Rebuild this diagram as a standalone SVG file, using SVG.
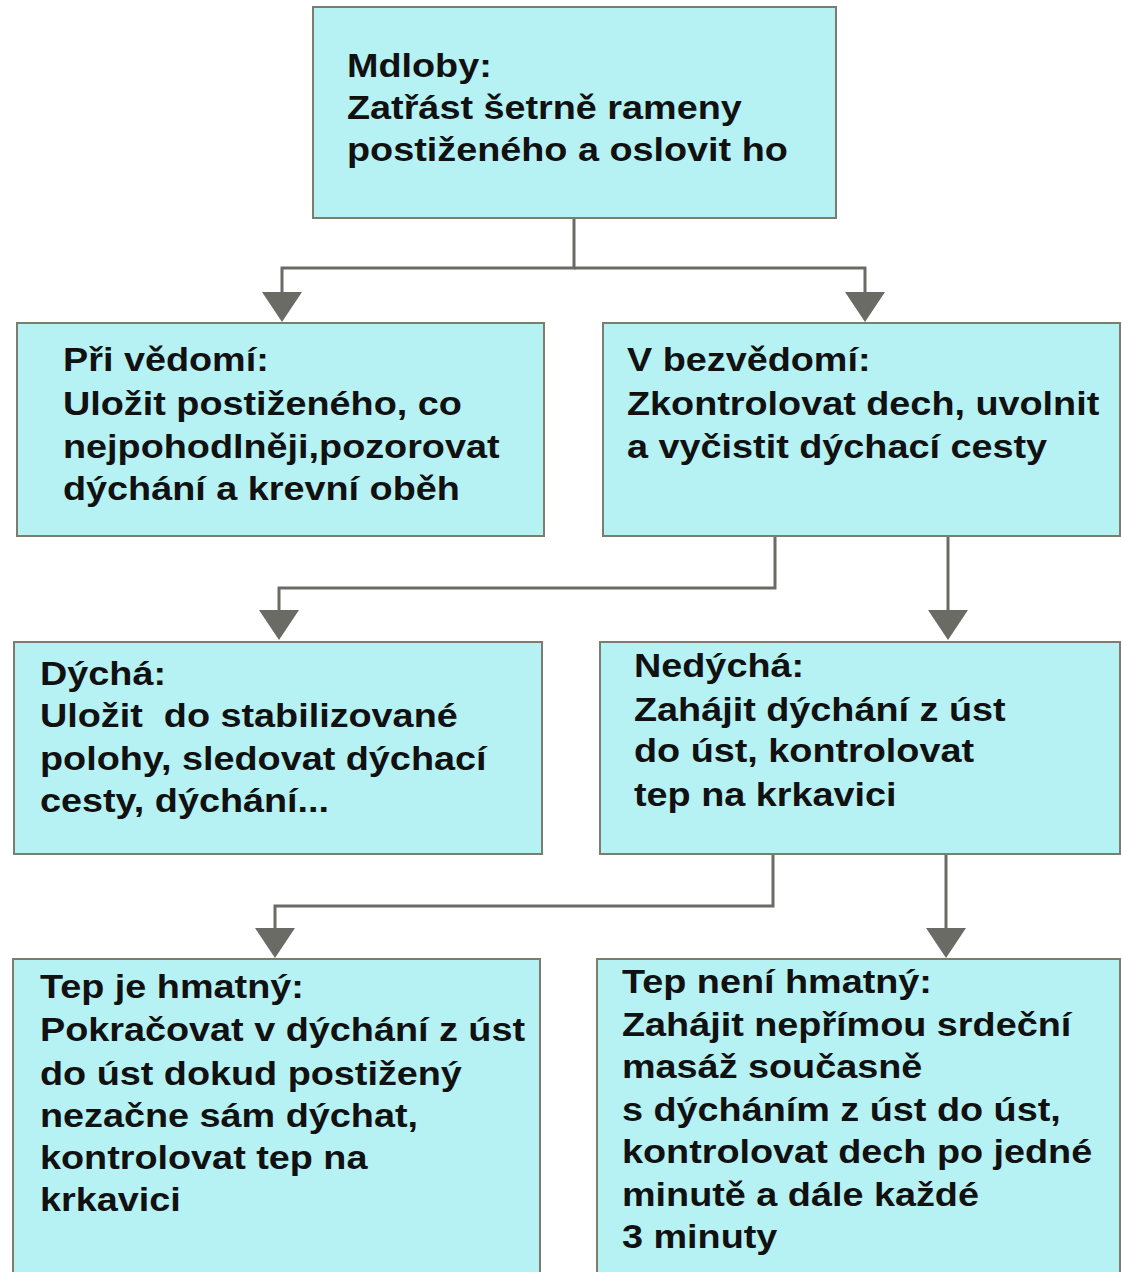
<svg xmlns="http://www.w3.org/2000/svg" width="1122" height="1272" viewBox="0 0 1122 1272">
<style>
.box{fill:#b6f2f3;stroke:#7d7d6e;stroke-width:2}
.t{font-family:"Liberation Sans",Arial,sans-serif;font-weight:bold;font-size:33px;fill:#111}
.c{fill:none;stroke:#6b6b66;stroke-width:3}
.a{fill:#6b6b66}
</style>
<rect width="1122" height="1272" fill="#fff"/>
<g id="connectors">
<path class="c" d="M574,218 V268 H282 V300"/>
<path class="c" d="M574,268 H865 V300"/>
<path class="c" d="M775,536 V588 H279 V618"/>
<path class="c" d="M948,536 V618"/>
<path class="c" d="M773,854 V906 H275 V936"/>
<path class="c" d="M946,854 V936"/>
<path class="a" d="M262,292 L302,292 L282,322 Z"/>
<path class="a" d="M845,292 L885,292 L865,322 Z"/>
<path class="a" d="M259,610 L299,610 L279,640 Z"/>
<path class="a" d="M928,610 L968,610 L948,640 Z"/>
<path class="a" d="M255,928 L295,928 L275,958 Z"/>
<path class="a" d="M926,928 L966,928 L946,958 Z"/>
</g>
<g id="n1">
<rect class="box" x="313" y="7" width="523" height="211"/>
<g transform="translate(347,0) scale(1.145,1)">
<text class="t" x="0" y="77">Mdloby:</text>
<text class="t" x="0" y="119">Zatřást šetrně rameny</text>
<text class="t" x="0" y="161">postiženého a oslovit ho</text>
</g>
</g>
<g id="n2">
<rect class="box" x="17" y="323" width="527" height="213"/>
<g transform="translate(63,0) scale(1.145,1)">
<text class="t" x="0" y="371">Při vědomí:</text>
<text class="t" x="0" y="415">Uložit postiženého, co</text>
<text class="t" x="0" y="458">nejpohodlněji,pozorovat</text>
<text class="t" x="0" y="500">dýchání a krevní oběh</text>
</g>
</g>
<g id="n3">
<rect class="box" x="603" y="323" width="517" height="213"/>
<g transform="translate(627,0) scale(1.145,1)">
<text class="t" x="0" y="371">V bezvědomí:</text>
<text class="t" x="0" y="415">Zkontrolovat dech, uvolnit</text>
<text class="t" x="0" y="458">a vyčistit dýchací cesty</text>
</g>
</g>
<g id="n4">
<rect class="box" x="14" y="642" width="528" height="212"/>
<g transform="translate(40,0) scale(1.145,1)">
<text class="t" x="0" y="685">Dýchá:</text>
<text class="t" x="0" y="727">Uložit&#160; do stabilizované</text>
<text class="t" x="0" y="770">polohy, sledovat dýchací</text>
<text class="t" x="0" y="812">cesty, dýchání...</text>
</g>
</g>
<g id="n5">
<rect class="box" x="600" y="642" width="520" height="212"/>
<g transform="translate(634,0) scale(1.145,1)">
<text class="t" x="0" y="677">Nedýchá:</text>
<text class="t" x="0" y="721">Zahájit dýchání z úst</text>
<text class="t" x="0" y="762">do úst, kontrolovat</text>
<text class="t" x="0" y="806">tep na krkavici</text>
</g>
</g>
<g id="n6">
<rect class="box" x="13" y="959" width="527" height="330"/>
<g transform="translate(40,0) scale(1.145,1)">
<text class="t" x="0" y="998">Tep je hmatný:</text>
<text class="t" x="0" y="1041">Pokračovat v dýchání z úst</text>
<text class="t" x="0" y="1085">do úst dokud postižený</text>
<text class="t" x="0" y="1127">nezačne sám dýchat,</text>
<text class="t" x="0" y="1169">kontrolovat tep na</text>
<text class="t" x="0" y="1211">krkavici</text>
</g>
</g>
<g id="n7">
<rect class="box" x="597" y="959" width="523" height="330"/>
<g transform="translate(622,0) scale(1.145,1)">
<text class="t" x="0" y="993">Tep není hmatný:</text>
<text class="t" x="0" y="1036">Zahájit nepřímou srdeční</text>
<text class="t" x="0" y="1078">masáž současně</text>
<text class="t" x="0" y="1121">s dýcháním z úst do úst,</text>
<text class="t" x="0" y="1163">kontrolovat dech po jedné</text>
<text class="t" x="0" y="1206">minutě a dále každé</text>
<text class="t" x="0" y="1248">3 minuty</text>
</g>
</g>
</svg>
